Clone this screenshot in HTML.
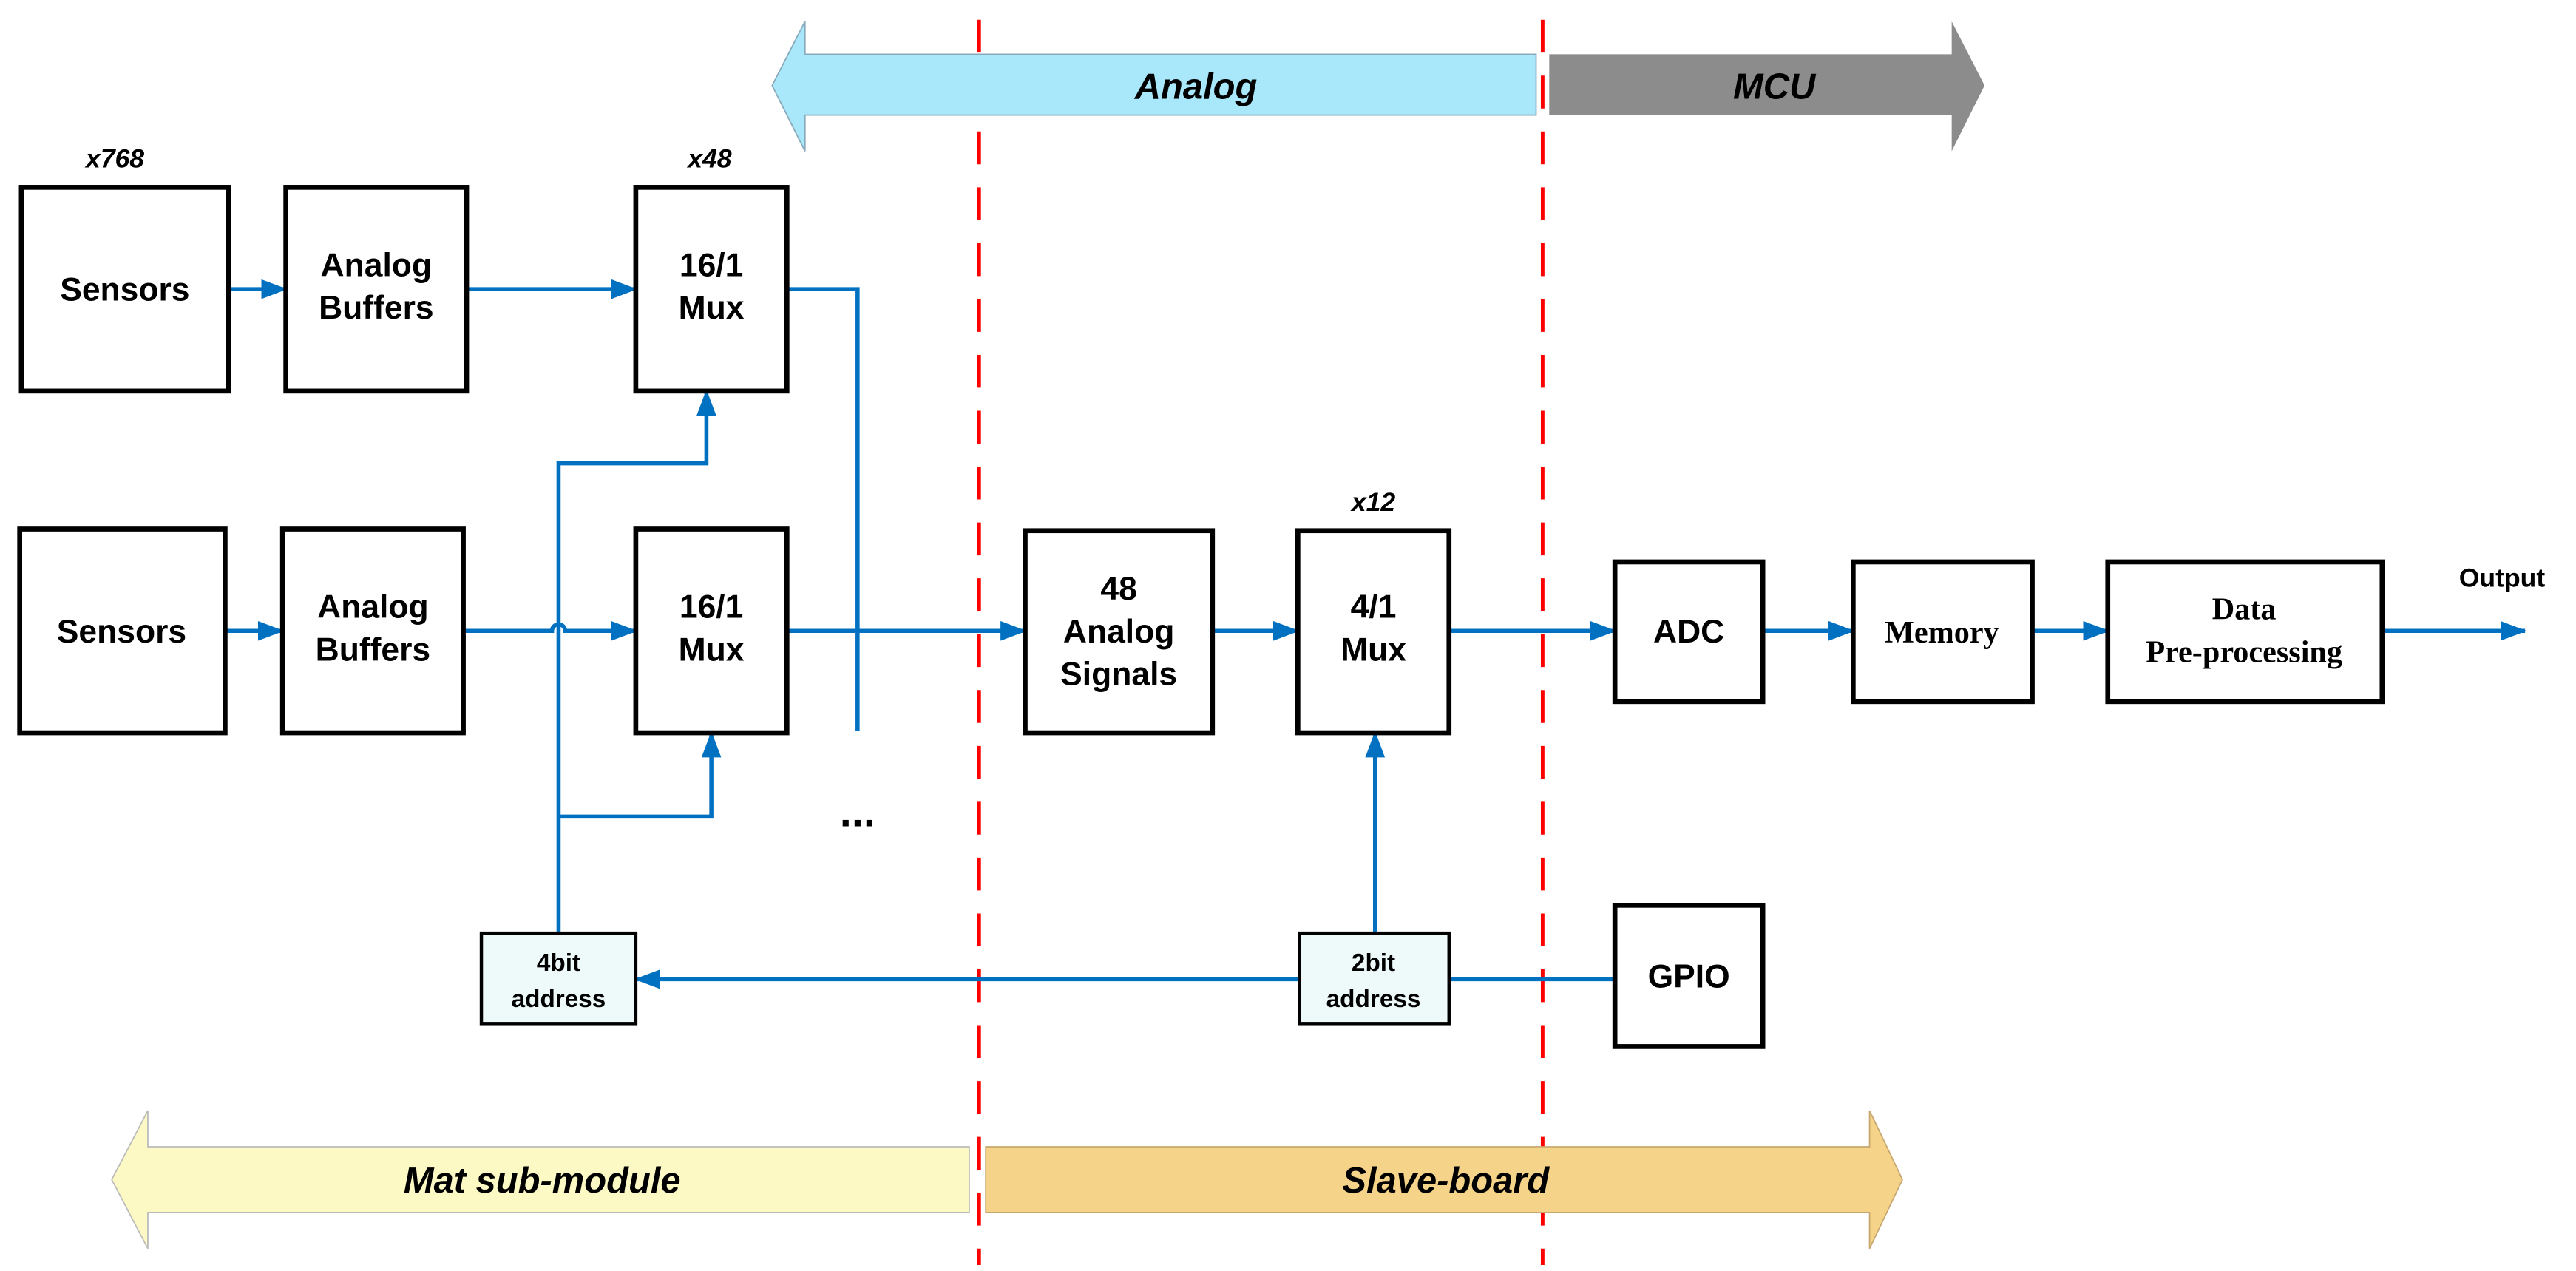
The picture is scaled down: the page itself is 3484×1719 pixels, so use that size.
<!DOCTYPE html>
<html><head><meta charset="utf-8"><style>html,body{margin:0;padding:0;background:#fff}svg{display:block}</style></head>
<body>
<svg width="3484" height="1719" viewBox="0 0 1568 773.6" xmlns="http://www.w3.org/2000/svg" font-family="Liberation Sans, Arial, sans-serif">
<defs>
<marker id="a" markerWidth="16" markerHeight="12" refX="15" refY="6" orient="auto" markerUnits="userSpaceOnUse" viewBox="0 0 16 12">
<path d="M0,0 L16,6 L0,12 Z" fill="#0070c0"/></marker>
</defs>
<!-- dashed -->
<line x1="596" y1="12" x2="596" y2="770" stroke="#f00" stroke-width="2.2" stroke-dasharray="20,14"/>
<line x1="939" y1="12" x2="939" y2="770" stroke="#f00" stroke-width="2.2" stroke-dasharray="20,14"/>
<!-- band arrows -->
<polygon points="470,52 490,13 490,33 935,33 935,70 490,70 490,92" fill="#a9e8fa" stroke="#8ab" stroke-width="0.8"/>
<text x="728" y="60" font-size="22" font-weight="bold" font-style="italic" text-anchor="middle">Analog</text>
<polygon points="943,33 1188,33 1188,13 1208,52 1188,92 1188,70 943,70" fill="#8c8c8c"/>
<text x="1080" y="60" font-size="22" font-weight="bold" font-style="italic" text-anchor="middle">MCU</text>
<polygon points="68,718 90,676 90,698 590,698 590,738 90,738 90,760" fill="#fdf9c4" stroke="#bbb" stroke-width="0.8"/>
<text x="330" y="726" font-size="22" font-weight="bold" font-style="italic" text-anchor="middle">Mat sub-module</text>
<polygon points="600,698 1138,698 1138,676 1158,718 1138,760 1138,738 600,738" fill="#f5d48a" stroke="#c8a870" stroke-width="0.8"/>
<text x="880" y="726" font-size="22" font-weight="bold" font-style="italic" text-anchor="middle">Slave-board</text>
<!-- connectors -->
<g stroke="#0070c0" stroke-width="2.5" fill="none">
<line x1="139" y1="176" x2="174" y2="176" marker-end="url(#a)"/>
<line x1="284" y1="176" x2="387" y2="176" marker-end="url(#a)"/>
<polyline points="479,176 522,176 522,445"/>
<line x1="137" y1="384" x2="172" y2="384" marker-end="url(#a)"/>
<path d="M282,384 L336,384 A4,4 0 0 1 344,384 L387,384" marker-end="url(#a)"/>
<line x1="479" y1="384" x2="624" y2="384" marker-end="url(#a)"/>
<line x1="738" y1="384" x2="790" y2="384" marker-end="url(#a)"/>
<line x1="882" y1="384" x2="983" y2="384" marker-end="url(#a)"/>
<line x1="1073" y1="384" x2="1128" y2="384" marker-end="url(#a)"/>
<line x1="1237" y1="384" x2="1283" y2="384" marker-end="url(#a)"/>
<line x1="1450" y1="384" x2="1537" y2="384" marker-end="url(#a)"/>
<polyline points="340,568 340,282 430,282 430,238" marker-end="url(#a)"/>
<polyline points="340,497 433,497 433,446" marker-end="url(#a)"/>
<line x1="837" y1="568" x2="837" y2="446" marker-end="url(#a)"/>
<line x1="983" y1="596" x2="882" y2="596"/>
<line x1="791" y1="596" x2="387" y2="596" marker-end="url(#a)"/>
</g>
<!-- boxes -->
<g stroke="#000" stroke-width="3" fill="#fff">
<rect x="13" y="114" width="126" height="124"/>
<rect x="174" y="114" width="110" height="124"/>
<rect x="387" y="114" width="92" height="124"/>
<rect x="12" y="322" width="125" height="124"/>
<rect x="172" y="322" width="110" height="124"/>
<rect x="387" y="322" width="92" height="124"/>
<rect x="624" y="323" width="114" height="123"/>
<rect x="790" y="323" width="92" height="123"/>
<rect x="983" y="342" width="90" height="85"/>
<rect x="1128" y="342" width="109" height="85"/>
<rect x="1283" y="342" width="167" height="85"/>
<rect x="983" y="551" width="90" height="86"/>
</g>
<g stroke="#000" stroke-width="2" fill="#eef9f9">
<rect x="293" y="568" width="94" height="55"/>
<rect x="791" y="568" width="91" height="55"/>
</g>
<!-- text -->
<g font-size="20" font-weight="bold" text-anchor="middle">
<text x="76" y="183">Sensors</text>
<text x="229" y="168">Analog</text><text x="229" y="194">Buffers</text>
<text x="433" y="168">16/1</text><text x="433" y="194">Mux</text>
<text x="74" y="391">Sensors</text>
<text x="227" y="376">Analog</text><text x="227" y="402">Buffers</text>
<text x="433" y="376">16/1</text><text x="433" y="402">Mux</text>
<text x="681" y="365">48</text><text x="681" y="391">Analog</text><text x="681" y="417">Signals</text>
<text x="836" y="376">4/1</text><text x="836" y="402">Mux</text>
<text x="1028" y="391">ADC</text>
<text x="1028" y="601">GPIO</text>
</g>
<g font-family="Liberation Serif, serif" font-weight="bold" text-anchor="middle" font-size="19">
<text x="1182" y="391">Memory</text>
<text x="1366" y="377">Data</text><text x="1366" y="403">Pre-processing</text>
</g>
<g font-size="15" font-weight="bold" text-anchor="middle">
<text x="340" y="591">4bit</text><text x="340" y="613">address</text>
<text x="836" y="591">2bit</text><text x="836" y="613">address</text>
<text x="1523" y="357" font-size="16">Output</text>
</g>
<g font-size="16" font-weight="bold" font-style="italic" text-anchor="middle">
<text x="70" y="102">x768</text>
<text x="432" y="102">x48</text>
<text x="836" y="311">x12</text>
</g>
<text x="522" y="503" font-size="26" font-weight="bold" text-anchor="middle">...</text>
</svg>
</body></html>
